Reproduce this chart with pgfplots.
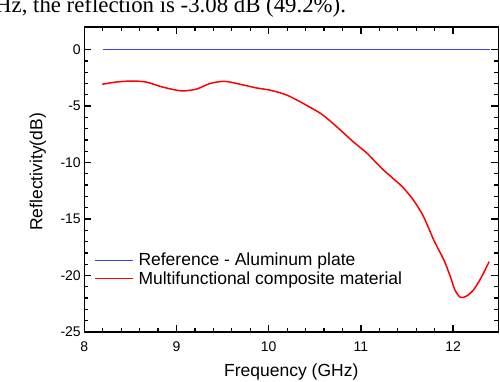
\documentclass[border=0pt]{standalone}
\usepackage{fontspec}
\setmainfont{Liberation Sans}
\newfontfamily\capfont{Liberation Serif}
\usepackage{pgfplots}
\pgfplotsset{compat=1.18}
\definecolor{refblue}{RGB}{60,60,255}
\definecolor{matred}{RGB}{255,0,0}
\begin{document}
\begin{tikzpicture}
\path[use as bounding box] (0bp,0bp) rectangle (500bp,382bp);
\node[anchor=base west, inner sep=0pt, font=\capfont\fontsize{22.8bp}{26bp}\selectfont] at (-5bp,369.5bp) {Hz, the reflection is -3.08 dB (49.2\%).};
\begin{axis}[
  scale only axis, width=414bp, height=305bp,
  at={(84.3bp,50bp)}, anchor=south west,
  xmin=8, xmax=12.49, ymin=-25, ymax=2,
  xtick={8,9,10,11,12}, ytick={-25,-20,-15,-10,-5,0},
  minor x tick num=4, minor y tick num=4,
  tick align=inside,
  xtick pos=both, ytick pos=both,
  major tick length=7bp, minor tick length=4bp,
  axis line style={line width=1.3bp, black},
  every tick/.append style={black, line width=1.3bp},
  /pgf/number format/assume math mode=true,
  tick label style={font=\fontsize{14bp}{16bp}\selectfont},
  xticklabel style={yshift=-6bp},
  label style={font=\fontsize{17.5bp}{20bp}\selectfont},
  xlabel={Frequency (GHz)},
  ylabel={Reflectivity(dB)},
  xlabel style={at={(axis description cs:0.5,-0.131)}, anchor=center},
  ylabel style={at={(axis description cs:-0.112,0.525)}, anchor=center},
  legend style={draw=none, fill=none, at={(axis description cs:0.023,0.262)}, anchor=north west,
    font=\fontsize{17.5bp}{20bp}\selectfont, inner sep=0pt, row sep=2bp, nodes={inner sep=1bp}},
  legend image code/.code={\draw[#1] (0bp,0bp) -- (38bp,0bp);},
  legend cell align=left,
]
\addplot[refblue, line width=1.3bp] coordinates {(8.2,0) (12.4,0)};
\addlegendentry{\hspace{4bp}Reference - Aluminum plate}
\addplot[matred, line width=1.5bp, smooth, tension=0.5] coordinates {
(8.195,-3.07) (8.35,-2.87) (8.53,-2.78) (8.68,-2.89) (8.82,-3.25) (8.95,-3.51)
(9.07,-3.66) (9.22,-3.49) (9.36,-3.01) (9.52,-2.81) (9.69,-3.07) (9.87,-3.40)
(10.02,-3.60) (10.20,-4.04) (10.41,-4.93) (10.58,-5.75) (10.74,-6.85) (10.92,-8.18)
(11.07,-9.20) (11.21,-10.39) (11.35,-11.42) (11.45,-12.15) (11.57,-13.33) (11.68,-14.80)
(11.79,-16.86) (11.90,-18.63) (11.97,-20.10) (12.02,-21.28) (12.08,-21.93) (12.15,-21.80)
(12.22,-21.28) (12.30,-20.25) (12.39,-18.78)
};
\addlegendentry{\hspace{4bp}Multifunctional composite material}
\end{axis}
\end{tikzpicture}
\end{document}
